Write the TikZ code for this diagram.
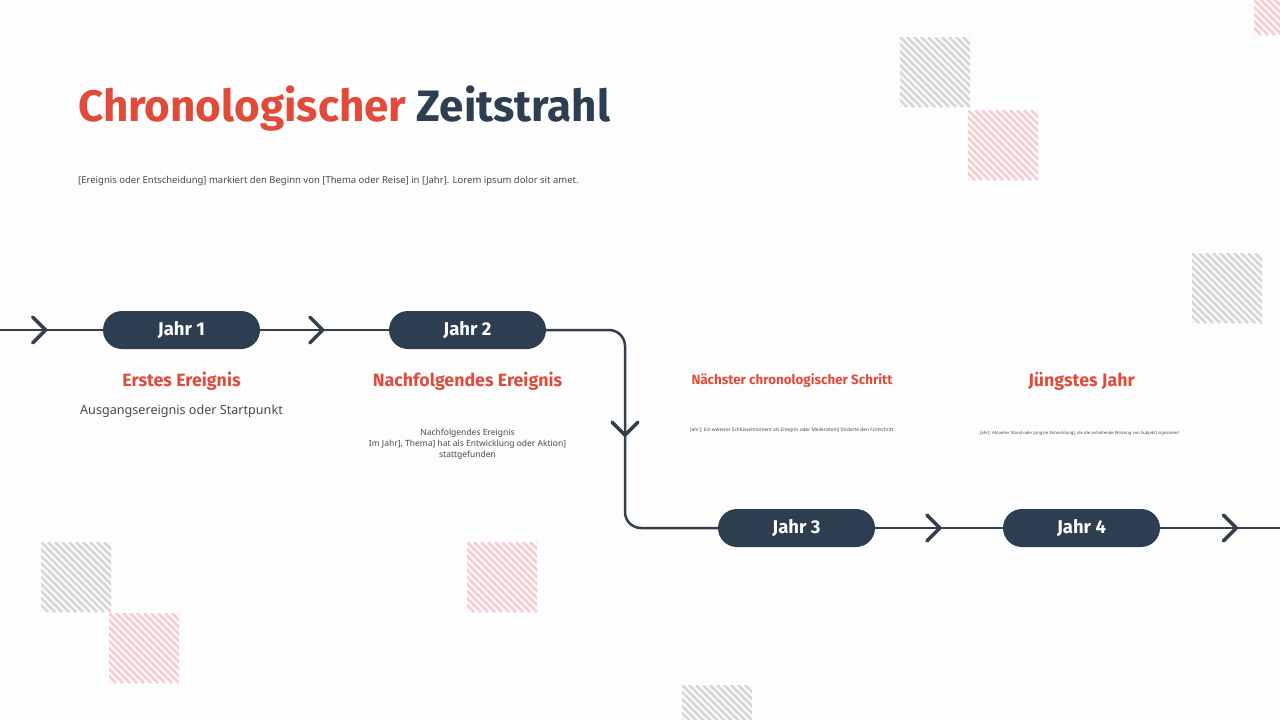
\documentclass[tikz,border=0pt]{standalone}
\usepackage{fontspec}
\setmainfont{Fira Sans}
\newfontfamily\bodyfont{Noto Sans}
\usetikzlibrary{arrows.meta,decorations.markings}
\definecolor{navy}{HTML}{2C3E50}
\definecolor{linec}{HTML}{343F4E}
\definecolor{accent}{HTML}{E04B3A}
\definecolor{textc}{HTML}{444A52}
\definecolor{hgray}{HTML}{D6D6DB}
\definecolor{hpink}{HTML}{F7CDD1}
\definecolor{bgc}{HTML}{FDFDFE}

\begin{document}
\begin{tikzpicture}[x=1pt,y=-1pt,
    year/.style = {rectangle,rounded corners=19pt,fill=navy,text=white,minimum width=157pt,minimum height=38pt,inner sep=0pt,font=\bfseries\fontsize{18.5}{20}\selectfont},
    tl/.style = {draw=linec,line width=2.5pt},
    chev/.style = {postaction={decorate},decoration={markings,mark=at position #1 with {\arrow[linec]{Straight Barb[length=13pt,width=26pt,line width=3.5pt,round]}}}},
    chev/.default = 0.5,
    head/.style = {anchor=base,text=accent,font=\bfseries\fontsize{17.8}{20}\selectfont},
    desc/.style = {anchor=base,text=textc,align=center}]
\fill[bgc] (0,0) rectangle (1280,720);
\useasboundingbox (0,0) rectangle (1280,720);
% hatched squares
\foreach \sx/\sy/\sc in {900/37/hgray,968/110/hpink,1254/-35/hpink,1192/253/hgray,41/542/hgray,109/613/hpink,467/542/hpink,682/685/hgray}{
    \begin{scope}
        \clip (\sx,\sy) rectangle ++(70,70);
        \foreach \k in {-70,-63,...,70} \draw[\sc,line width=2.5pt] (\sx+\k,\sy) -- ++(70,70);
    \end{scope}
}
% title
\node[anchor=base west,inner sep=0pt,font=\bfseries\fontsize{44}{50}\selectfont] (title) at (78,121) {\textcolor{accent}{Chronologischer} \textcolor{navy}{Zeitstrahl}};
\node[anchor=base west,inner sep=0pt,text=textc,font=\bodyfont\fontsize{9.5}{11}\selectfont] (sub) at (78,183) {[Ereignis oder Entscheidung] markiert den Beginn von [Thema oder Reise] in [Jahr]. Lorem ipsum dolor sit amet.};
% years
\node[year] (j1) at (181.5,330) {Jahr 1};
\node[year] (j2) at (467.5,330) {Jahr 2};
\node[year] (j3) at (796.5,528) {Jahr 3};
\node[year] (j4) at (1081.5,528) {Jahr 4};
\coordinate (start) at (0,330);
\coordinate (c1) at (625,330);
\coordinate (c2) at (625,528);
\coordinate (end) at (1280,528);
% timeline
\draw[tl,chev=0.46] (start) -- (j1);
\draw[tl,chev] (j1) -- (j2);
\draw[tl,rounded corners=16pt] (j2.east) -- (c1) -- (c2) -- (j3.west);
\path[chev=0.54] (c1) -- (c2);
\draw[tl,chev=0.52] (j3) -- (j4);
\draw[tl,chev=0.65] (j4.east) -- (end);
% texts
\node[head] (h1) at (181.5,386) {Erstes Ereignis};
\node[desc,font=\bodyfont\fontsize{12.6}{14}\selectfont] (d1) at (181.5,414) {Ausgangsereignis oder Startpunkt};
\node[head] (h2) at (467.5,386) {Nachfolgendes Ereignis};
\node[desc,font=\bodyfont\fontsize{8.5}{11}\selectfont,anchor=north] (d2) at (467.5,425) {Nachfolgendes Ereignis\\Im Jahr], Thema] hat als Entwicklung oder Aktion]\\stattgefunden};
\node[head,font=\bfseries\fontsize{13.4}{16}\selectfont] (h3) at (792,384) {Nächster chronologischer Schritt};
\node[desc,font=\bodyfont\fontsize{4.8}{6}\selectfont] (d3) at (792,431) {Jahr]: Ein weiterer Schlüsselmoment als Ereignis oder Meilenstein] förderte den Fortschritt};
\node[head] (h4) at (1081.5,386) {Jüngstes Jahr};
\node[desc,font=\bodyfont\fontsize{4.2}{6}\selectfont] (d4) at (1080,434) {Jahr]: Aktueller Stand oder jüngste Entwicklung], die die anhaltende Wirkung von Subjekt] signalisiert};
\end{tikzpicture}
\end{document}
